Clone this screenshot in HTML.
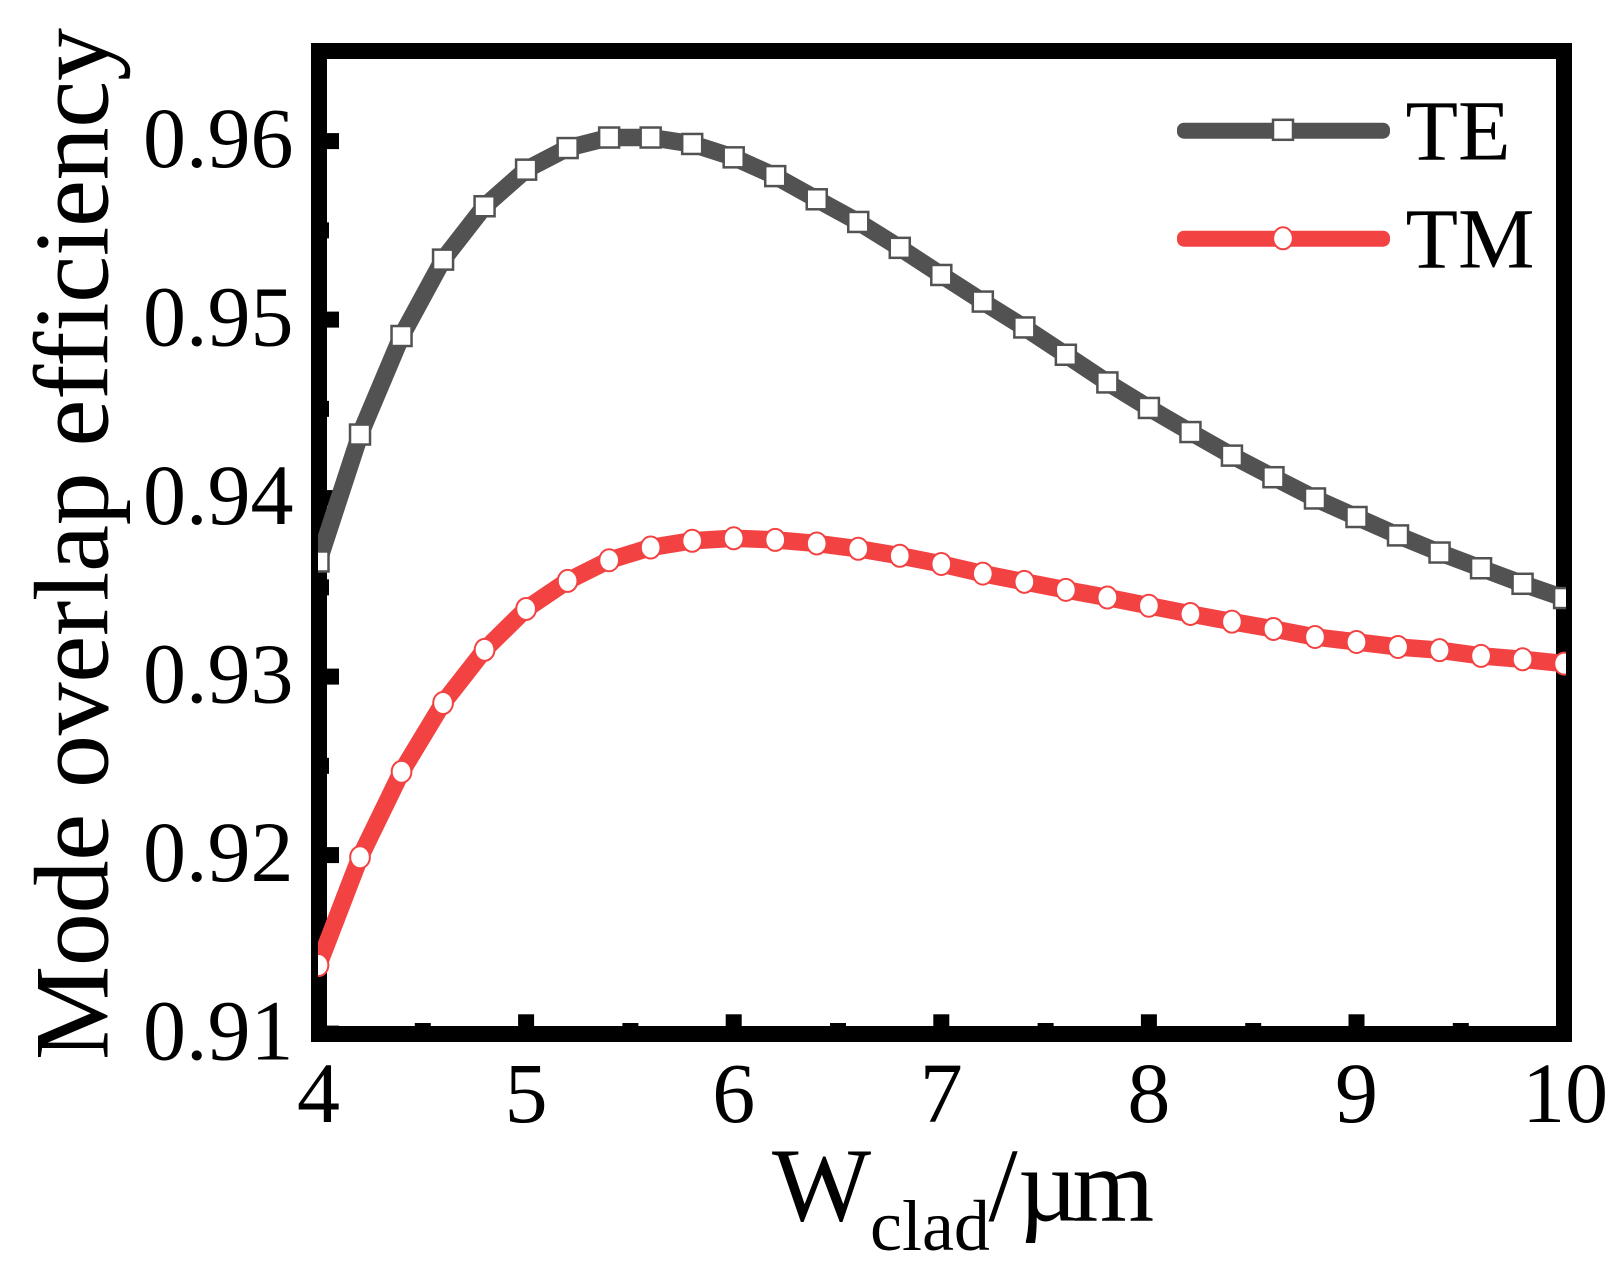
<!DOCTYPE html>
<html lang="en">
<head>
<meta charset="utf-8">
<title>Mode overlap efficiency vs cladding width</title>
<style>
html,body{margin:0;padding:0;background:#fff;}
svg{display:block;}
text{font-family:"Liberation Serif","DejaVu Serif",serif;fill:#000;}
</style>
</head>
<body>
<svg id="chart" xmlns="http://www.w3.org/2000/svg" width="1622" height="1276" viewBox="0 0 1622 1276">
  <defs>
    <clipPath id="plot-clip"><rect x="318" y="43" width="1248" height="999"></rect></clipPath>
    <clipPath id="frame-clip"><rect x="311" y="43" width="1261" height="999"></rect></clipPath>
  </defs>
  <rect x="0" y="0" width="1622" height="1276" fill="#fff"></rect>
  <g id="ticks" clip-path="url(#frame-clip)"></g>
  <rect x="319" y="51" width="1245" height="983" fill="none" stroke="#000" stroke-width="16"></rect>
  <g id="tick-labels" font-size="86"></g>
  <g id="series" clip-path="url(#plot-clip)"></g>
  <text transform="translate(107.6 1060) rotate(-90)" x="0" y="0" font-size="106" textLength="1032" lengthAdjust="spacing">Mode overlap efficiency</text>
  <g>
    <text x="772" y="1220.5" font-size="105">W</text>
    <text x="870" y="1250" font-size="72">clad</text>
    <text x="988.5" y="1220.5" font-size="105">/</text>
    <text x="1018" y="1220.5" font-size="105">µ</text>
    <text x="1072.5" y="1220.5" font-size="105">m</text>
  </g>
  <g id="legend"></g>
</svg>
<script>
const widths = [4,4.2,4.4,4.6,4.8,5,5.2,5.4,5.6,5.8,6,6.2,6.4,6.6,6.8,7,7.2,7.4,7.6,7.8,8,8.2,8.4,8.6,8.8,9,9.2,9.4,9.6,9.8,10];
const teValues = [0.93645,0.94356,0.94908,0.95336,0.95635,0.9584,0.95961,0.9602,0.9602,0.95984,0.95909,0.95804,0.95674,0.95547,0.95402,0.9525,0.95101,0.94956,0.94803,0.94648,0.94505,0.9437,0.94238,0.94117,0.93998,0.93894,0.93791,0.93695,0.93607,0.9352,0.9344];
const tmValues = [0.91384,0.91988,0.92467,0.92852,0.9315,0.93379,0.93536,0.93652,0.93723,0.93761,0.93775,0.93766,0.93746,0.93716,0.93677,0.93631,0.93577,0.93531,0.93486,0.93443,0.93397,0.93351,0.93308,0.93267,0.93222,0.93194,0.93166,0.93148,0.93116,0.93097,0.93073];
const xMajorTicks = [4,5,6,7,8,9,10];
const xMinorTicks = [4.5,5.5,6.5,7.5,8.5,9.5];
const yMajorTicks = [0.91,0.92,0.93,0.94,0.95,0.96];
const yMinorTicks = [0.915,0.925,0.935,0.945,0.955];
const xLabels = ['4','5','6','7','8','9','10'];
const yLabels = ['0.91','0.92','0.93','0.94','0.95','0.96'];
const legendNames = ['TE','TM'];

const NS = 'http://www.w3.org/2000/svg';
const GREY = '#525252';
const RED = '#F34242';
function xPos(v){ return 318.5 + (v - 4) * 207.6; }
function yPos(v){ return 1033.6 - (v - 0.91) * 17850; }
function make(tag, parent){
  const el = document.createElementNS(NS, tag);
  parent.appendChild(el);
  return el;
}
function setBox(el, x, y, w, h, fill){
  el.setAttribute('x', x);
  el.setAttribute('y', y);
  el.setAttribute('width', w);
  el.setAttribute('height', h);
  el.setAttribute('fill', fill);
}

const ticks = document.getElementById('ticks');
xMajorTicks.forEach(function(v){
  const el = make('rect', ticks);
  
  
  setBox(el, xPos(v) - 8, 1014.3, 16, 14, '#000');
});
xMinorTicks.forEach(function(v){
  const el = make('rect', ticks);
  
  
  setBox(el, xPos(v) - 7.5, 1023, 16, 5, '#000');
});
yMajorTicks.forEach(function(v){
  const el = make('rect', ticks);
  
  
  setBox(el, 320, yPos(v) - 8, 19, 16, '#000');
});
yMinorTicks.forEach(function(v){
  const el = make('rect', ticks);
  
  
  setBox(el, 320, yPos(v) - 8, 9, 16, '#000');
});

const labels = document.getElementById('tick-labels');
xMajorTicks.forEach(function(v, i){
  const el = make('text', labels);
  
  
  el.setAttribute('x', xPos(v) + (i === xMajorTicks.length - 1 ? 1 : 0));
  el.setAttribute('y', 1122);
  el.setAttribute('text-anchor', 'middle');
  el.textContent = xLabels[i];
});
yMajorTicks.forEach(function(v, i){
  const el = make('text', labels);
  
  
  el.setAttribute('x', 293.5);
  el.setAttribute('y', yPos(v) + 26);
  el.setAttribute('text-anchor', 'end');
  el.textContent = yLabels[i];
});

function drawSquare(parent, cx, cy, name){
  const el = make('rect', parent);
  
  
  setBox(el, cx - 10, cy - 10, 20, 20, '#fff');
  el.setAttribute('stroke', GREY);
  el.setAttribute('stroke-width', '2.5');
}
function drawCircle(parent, cx, cy, name){
  const el = make('ellipse', parent);
  
  
  el.setAttribute('cx', cx);
  el.setAttribute('cy', cy);
  el.setAttribute('rx', 9.85);
  el.setAttribute('ry', 11);
  el.setAttribute('fill', '#fff');
  el.setAttribute('stroke', RED);
  el.setAttribute('stroke-width', '2');
}
function drawLine(parent, values, color, name){
  const pts = values.map(function(v, i){ return xPos(widths[i]) + ',' + yPos(v); }).join(' ');
  const el = make('polyline', parent);
  
  
  el.setAttribute('points', pts);
  el.setAttribute('fill', 'none');
  el.setAttribute('stroke', color);
  el.setAttribute('stroke-width', '17.5');
  el.setAttribute('stroke-linejoin', 'round');
}

const series = document.getElementById('series');
drawLine(series, teValues, GREY, 'te-line');
drawLine(series, tmValues, RED, 'tm-line');
teValues.forEach(function(v, i){
  drawSquare(series, xPos(widths[i]), yPos(v), 'te-point');
});
tmValues.forEach(function(v, i){
  drawCircle(series, xPos(widths[i]), yPos(v), 'tm-point');
});

const legend = document.getElementById('legend');
legendNames.forEach(function(name, i){
  const cy = i === 0 ? 130.7 : 238.7;
  const color = i === 0 ? GREY : RED;
  const key = make('rect', legend);
  
  
  setBox(key, 1177, cy - 8, 213, 16, color);
  key.setAttribute('rx', 7);
  if (i === 0) {
    drawSquare(legend, 1283, cy - 0.9, 'legend-marker');
  } else {
    drawCircle(legend, 1283, cy - 0.4, 'legend-marker');
  }
  const label = make('text', legend);
  
  
  label.setAttribute('x', 1405.5);
  label.setAttribute('y', cy + 29);
  label.setAttribute('font-size', 86);
  label.textContent = name;
});
</script>
</body>
</html>
